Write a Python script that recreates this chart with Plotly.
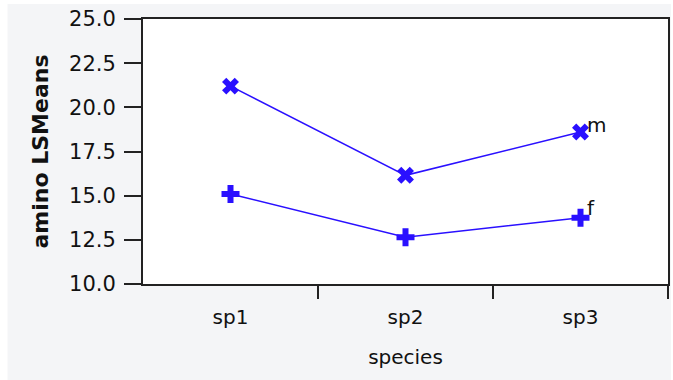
import plotly.graph_objects as go

species = ["sp1", "sp2", "sp3"]
male = [21.2, 16.15, 18.6]
female = [15.1, 12.65, 13.75]
series_labels = ["m", "f"]
y_ticks = [10.0, 12.5, 15.0, 17.5, 20.0, 22.5, 25.0]

blue = "#2a10ff"
font = "DejaVu Sans"

fig = go.Figure()
fig.add_trace(go.Scatter(
    x=species, y=male, mode="lines+markers",
    line=dict(color=blue, width=1.5),
    marker=dict(symbol="x", size=15, color=blue),
    showlegend=False, cliponaxis=False))
fig.add_trace(go.Scatter(
    x=species, y=female, mode="lines+markers",
    line=dict(color=blue, width=1.5),
    marker=dict(symbol="cross", size=15, color=blue),
    showlegend=False, cliponaxis=False))
# helper trace for the boundary tick axis
fig.add_trace(go.Scatter(x=[], y=[], xaxis="x2", yaxis="y", showlegend=False, hoverinfo="skip"))

for lab, vals, ys in [(series_labels[0], male, 7), (series_labels[1], female, 10)]:
    fig.add_annotation(x=species[-1], y=vals[-1], text=lab, showarrow=False,
                       xanchor="left", yanchor="middle", xshift=4, yshift=ys,
                       font=dict(family=font, size=20, color="#111"))

fig.update_layout(
    width=673, height=380,
    margin=dict(l=143, r=3, t=19, b=96),
    paper_bgcolor="white", plot_bgcolor="white",
    shapes=[
        dict(type="rect", xref="paper", yref="paper", layer="below",
             x0=-136/527, x1=3/527 + 1, y0=-96/265, y1=1 + 15/265,
             fillcolor="#f4f5f7", line=dict(width=0)),
        dict(type="rect", xref="paper", yref="paper", layer="below",
             x0=0, x1=1, y0=0, y1=1, fillcolor="white", line=dict(width=0)),
    ],
    xaxis=dict(
        type="category", categoryarray=species, range=[-0.5, 2.5],
        showline=True, mirror=True, linecolor="#222", linewidth=2,
        ticks="", showgrid=False, zeroline=False,
        tickfont=dict(family=font, size=20, color="#111"),
        ticklabelstandoff=14,
        title=dict(text="species", font=dict(family=font, size=20, color="#111"), standoff=22),
    ),
    xaxis2=dict(
        overlaying="x", anchor="y", side="bottom", type="linear",
        range=[-0.5, 2.5], tickvals=[0.5, 1.5, 2.5],
        ticks="outside", ticklen=14, tickwidth=2, tickcolor="#222",
        showticklabels=False, showgrid=False, zeroline=False, showline=False,
    ),
    yaxis=dict(
        range=[10, 25], tickvals=y_ticks, tickformat=".1f",
        showline=True, mirror=True, linecolor="#222", linewidth=2,
        ticks="outside", ticklen=17, tickwidth=2, tickcolor="#222",
        showgrid=False, zeroline=False,
        tickfont=dict(family=font, size=21, color="#111"),
        ticklabelstandoff=4,
        title=dict(text="<b>amino LSMeans</b>", font=dict(family=font, size=22, color="#111"), standoff=14),
    ),
)

fig.write_html("out.html")
